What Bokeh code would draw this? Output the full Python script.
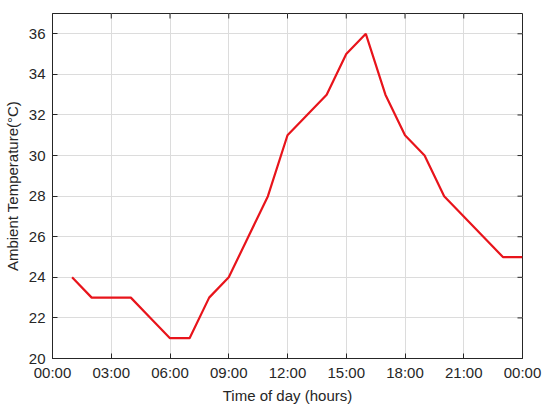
from bokeh.plotting import figure
from bokeh.models import Range1d, FixedTicker
from bokeh.embed import file_html
from bokeh.resources import INLINE

hours = [1, 2, 3, 4, 5, 6, 7, 8, 9, 10, 11, 12, 13, 14, 15, 16, 17, 18, 19, 20, 21, 22, 23, 24]
temps = [24, 23, 23, 23, 22, 21, 21, 23, 24, 26, 28, 31, 32, 33, 35, 36, 33, 31, 30, 28, 27, 26, 25, 25]
x_ticks = [0, 3, 6, 9, 12, 15, 18, 21, 24]
x_tick_labels = ["00:00", "03:00", "06:00", "09:00", "12:00", "15:00", "18:00", "21:00", "00:00"]
y_ticks = [20, 22, 24, 26, 28, 30, 32, 34, 36]

X0, X1, Y0, Y1 = 0, 24, 20, 37
FW, FH = 470, 345
TICK = 5

FONT = "Liberation Sans"
TXT = "#262626"

p = figure(frame_width=FW, frame_height=FH, output_backend="svg", toolbar_location=None,
           x_range=Range1d(X0, X1), y_range=Range1d(Y0, Y1),
           min_border_left=51, min_border_right=21, min_border_top=13, min_border_bottom=44,
           background_fill_color="white", border_fill_color="white")
p.outline_line_color = TXT
p.outline_line_width = 1

p.line(hours, temps, line_color="#e8141b", line_width=2.2)

# inward ticks on the top and right edges (MATLAB-style box)
dy = TICK * (Y1 - Y0) / FH
dx = TICK * (X1 - X0) / FW
p.segment(x0=x_ticks, y0=[Y1] * len(x_ticks), x1=x_ticks, y1=[Y1 - dy] * len(x_ticks),
          line_color=TXT, line_width=1)
p.segment(x0=[X1] * len(y_ticks), y0=y_ticks, x1=[X1 - dx] * len(y_ticks), y1=y_ticks,
          line_color=TXT, line_width=1)

def style_axis(ax):
    ax.axis_line_color = TXT
    ax.major_tick_line_color = TXT
    ax.major_tick_in = TICK
    ax.major_tick_out = 0
    ax.minor_tick_line_color = None
    ax.major_label_text_font = FONT
    ax.major_label_text_color = TXT
    ax.major_label_text_font_size = "15px"
    ax.axis_label_text_font = FONT
    ax.axis_label_text_color = TXT
    ax.axis_label_text_font_size = "15px"
    ax.axis_label_text_font_style = "normal"

xa = p.xaxis[0]
xa.ticker = FixedTicker(ticks=x_ticks)
xa.major_label_overrides = {t: l for t, l in zip(x_ticks, x_tick_labels)}
xa.axis_label = "Time of day (hours)"
xa.major_label_standoff = 5
xa.axis_label_standoff = 3
style_axis(xa)

ya = p.yaxis[0]
ya.ticker = FixedTicker(ticks=y_ticks)
ya.axis_label = "Ambient Temperature(\u00b0C)"
ya.major_label_standoff = 7
ya.axis_label_standoff = 5
style_axis(ya)

p.xgrid.ticker = FixedTicker(ticks=x_ticks)
p.ygrid.ticker = FixedTicker(ticks=y_ticks)
p.grid.grid_line_color = "#dcdcdc"
p.grid.grid_line_width = 1

open("out.html", "w").write(file_html(p, INLINE))
